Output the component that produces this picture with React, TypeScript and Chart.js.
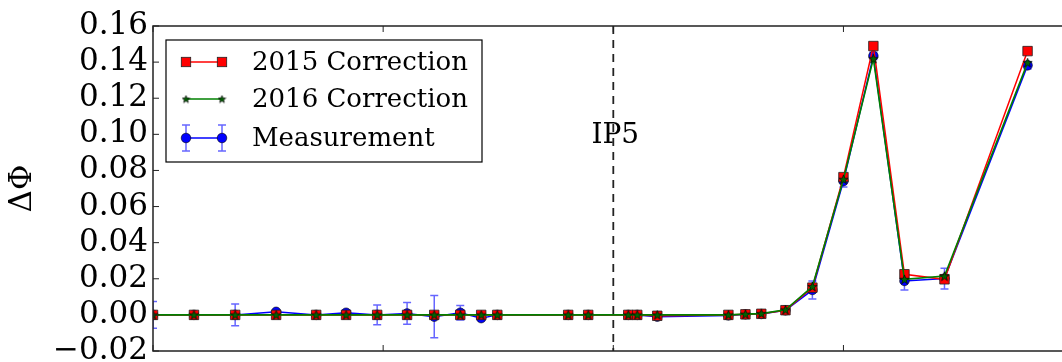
import React, { useEffect, useRef } from "react";
import { Chart, registerables } from "chart.js";
Chart.register(...registerables);

// x positions (arbitrary units, IP5 at 0, one tick per unit)
const positions = [-2.0, -1.822, -1.643, -1.465, -1.291, -1.161, -1.026, -0.896, -0.778, -0.665, -0.574, -0.504, -0.196, -0.109, 0.065, 0.104, 0.191, 0.5, 0.574, 0.643, 0.748, 0.865, 1.0, 1.13, 1.265, 1.439, 1.8];
const correction2015 = [0, 0, 0, 0, 0, 0, 0, 0, 0, 0, 0, 0, 0, 0, 0, 0, -0.0005, 0, 0.0003, 0.0006, 0.0026, 0.0151, 0.0763, 0.1489, 0.0225, 0.0197, 0.1461];
const correction2016 = [0, 0, 0, 0, 0, 0, 0, 0, 0, 0, 0, 0, 0, 0, 0, 0, 0, 0, 0.0004, 0.0007, 0.0028, 0.0157, 0.0751, 0.1419, 0.0197, 0.0215, 0.1397];
const measurement = [0, 0, 0, 0.0017, 0, 0.0012, 0, 0.0008, -0.001, 0.0012, -0.0018, 0, 0, 0, 0, 0, -0.001, -0.0003, 0.0003, 0.0005, 0.0025, 0.0138, 0.0741, 0.1434, 0.0188, 0.0201, 0.1382];
const measurementError = [0.0074, 0.001, 0.006, 0.001, 0.001, 0.001, 0.0055, 0.006, 0.0117, 0.004, 0.001, 0.001, 0.001, 0.001, 0.001, 0.001, 0.001, 0.001, 0.001, 0.001, 0.001, 0.005, 0.0033, 0.002, 0.005, 0.0057, 0.002];
const xTicks = [-2, -1, 0, 1];
const yTickValues = [-0.02, 0, 0.02, 0.04, 0.06, 0.08, 0.1, 0.12, 0.14, 0.16];
const IP5_X = 0;
const IP5_LABEL = "IP5";
const Y_TITLE = "ΔΦ";
const LABELS = ["2015 Correction", "2016 Correction", "Measurement"];

const SERIF = "'DejaVu Serif', serif";

function makeStar(size: number) {
  const c = document.createElement("canvas");
  c.width = size;
  c.height = size;
  const g = c.getContext("2d")!;
  const cx = size / 2, cy = size / 2 + 0.4;
  const R = size / 2 - 0.6, r = R * 0.42;
  g.beginPath();
  for (let i = 0; i < 10; i++) {
    const rad = i % 2 === 0 ? R : r;
    const a = -Math.PI / 2 + (i * Math.PI) / 5;
    const px = cx + rad * Math.cos(a), py = cy + rad * Math.sin(a);
    if (i === 0) g.moveTo(px, py); else g.lineTo(px, py);
  }
  g.closePath();
  g.fillStyle = "#006400";
  g.fill();
  g.lineWidth = 0.7;
  g.strokeStyle = "#000";
  g.stroke();
  return c;
}

export default function App() {
  const ref = useRef<HTMLCanvasElement | null>(null);
  useEffect(() => {
    const star = makeStar(11);
    const legendStar = makeStar(9);
    const overlay = {
      id: "overlay",
      beforeDatasetsDraw(chart: any) {
        const { ctx, chartArea: a, scales } = chart;
        const xs = scales.x, ys = scales.y;
        ctx.save();
        ctx.beginPath();
        ctx.rect(a.left, a.top, a.right - a.left, a.bottom - a.top);
        ctx.clip();
        // IP5 dashed line
        const ipx = xs.getPixelForValue(IP5_X);
        ctx.strokeStyle = "#222";
        ctx.lineWidth = 1.8;
        ctx.setLineDash([8, 6]);
        ctx.beginPath();
        ctx.moveTo(ipx, a.top);
        ctx.lineTo(ipx, a.bottom);
        ctx.stroke();
        ctx.setLineDash([]);
        // error bars
        ctx.strokeStyle = "rgba(0,0,255,0.6)";
        ctx.lineWidth = 1.5;
        for (let i = 0; i < positions.length; i++) {
          const px = xs.getPixelForValue(positions[i]);
          const y1 = ys.getPixelForValue(measurement[i] - measurementError[i]);
          const y2 = ys.getPixelForValue(measurement[i] + measurementError[i]);
          ctx.beginPath();
          ctx.moveTo(px, y1); ctx.lineTo(px, y2);
          ctx.moveTo(px - 4, y1); ctx.lineTo(px + 4, y1);
          ctx.moveTo(px - 4, y2); ctx.lineTo(px + 4, y2);
          ctx.stroke();
        }
        ctx.restore();
      },
      afterDatasetsDraw(chart: any) {
        const { ctx, chartArea: a, scales } = chart;
        const xs = scales.x, ys = scales.y;
        ctx.save();
        // frame (right side is cut off in the original)
        ctx.strokeStyle = "#222";
        ctx.lineWidth = 1.5;
        ctx.beginPath();
        ctx.moveTo(chart.width, a.top);
        ctx.lineTo(a.left, a.top);
        ctx.lineTo(a.left, a.bottom);
        ctx.lineTo(chart.width, a.bottom);
        ctx.stroke();
        // ticks (inward)
        ctx.lineWidth = 1;
        ctx.beginPath();
        for (const v of yTickValues) {
          const py = ys.getPixelForValue(v);
          ctx.moveTo(a.left, py); ctx.lineTo(a.left + 6, py);
        }
        for (const v of xTicks) {
          const px = xs.getPixelForValue(v);
          ctx.moveTo(px, a.top); ctx.lineTo(px, a.top + 6);
          ctx.moveTo(px, a.bottom); ctx.lineTo(px, a.bottom - 6);
        }
        ctx.stroke();
        // IP5 label
        ctx.fillStyle = "#000";
        ctx.font = "28px " + SERIF;
        ctx.textAlign = "center";
        ctx.textBaseline = "alphabetic";
        ctx.fillText(IP5_LABEL, xs.getPixelForValue(IP5_X) + 2, 143);
        // legend
        const lx = 166, ly = 40, lw = 316, lh = 122;
        ctx.fillStyle = "#fff";
        ctx.fillRect(lx, ly, lw, lh);
        ctx.strokeStyle = "#000";
        ctx.lineWidth = 1.2;
        ctx.strokeRect(lx, ly, lw, lh);
        const rows = [62, 99, 138];
        const x1 = 186, x2 = 222;
        ctx.font = "26px " + SERIF;
        ctx.textAlign = "left";
        ctx.textBaseline = "middle";
        // row 1
        ctx.strokeStyle = "#ff0000"; ctx.lineWidth = 1.5;
        ctx.beginPath(); ctx.moveTo(x1, rows[0]); ctx.lineTo(x2, rows[0]); ctx.stroke();
        for (const px of [x1, x2]) {
          ctx.fillStyle = "#ff0000"; ctx.fillRect(px - 4.7, rows[0] - 4.7, 9.4, 9.4);
          ctx.strokeStyle = "#222"; ctx.lineWidth = 0.8; ctx.strokeRect(px - 4.7, rows[0] - 4.7, 9.4, 9.4);
        }
        // row 2
        ctx.strokeStyle = "#008000"; ctx.lineWidth = 1.5;
        ctx.beginPath(); ctx.moveTo(x1, rows[1]); ctx.lineTo(x2, rows[1]); ctx.stroke();
        for (const px of [x1, x2]) ctx.drawImage(legendStar, px - 4.5, rows[1] - 4.5);
        // row 3
        ctx.strokeStyle = "rgba(0,0,255,0.6)"; ctx.lineWidth = 1.5;
        ctx.beginPath();
        for (const px of [x1, x2]) {
          ctx.moveTo(px, rows[2] - 13); ctx.lineTo(px, rows[2] + 13);
          ctx.moveTo(px - 4, rows[2] - 13); ctx.lineTo(px + 4, rows[2] - 13);
          ctx.moveTo(px - 4, rows[2] + 13); ctx.lineTo(px + 4, rows[2] + 13);
        }
        ctx.stroke();
        ctx.strokeStyle = "#0000ff";
        ctx.beginPath(); ctx.moveTo(x1, rows[2]); ctx.lineTo(x2, rows[2]); ctx.stroke();
        for (const px of [x1, x2]) {
          ctx.beginPath(); ctx.arc(px, rows[2], 4.8, 0, Math.PI * 2);
          ctx.fillStyle = "#0000ff"; ctx.fill();
          ctx.strokeStyle = "#000"; ctx.lineWidth = 0.6; ctx.stroke();
        }
        ctx.fillStyle = "#000";
        LABELS.forEach((t, i) => ctx.fillText(t, 252, rows[i] + 1));
        ctx.restore();
      },
    };

    const toPts = (ys: number[]) => positions.map((x, i) => ({ x, y: ys[i] }));
    const chart = new Chart(ref.current!, {
      type: "line",
      data: {
        datasets: [
          {
            label: LABELS[2],
            data: toPts(measurement),
            borderColor: "#0000ff",
            backgroundColor: "#0000ff",
            borderWidth: 1.5,
            pointStyle: "circle",
            pointRadius: 4.8,
            pointBorderColor: "#000",
            pointBorderWidth: 0.6,
            pointBackgroundColor: "#0000ff",
            order: 2,
          },
          {
            label: LABELS[0],
            data: toPts(correction2015),
            borderColor: "#ff0000",
            backgroundColor: "#ff0000",
            borderWidth: 1.5,
            pointStyle: "rect",
            pointRadius: 6.7,
            pointBorderColor: "#222",
            pointBorderWidth: 0.8,
            pointBackgroundColor: "#ff0000",
            order: 1,
          },
          {
            label: LABELS[1],
            data: toPts(correction2016),
            borderColor: "#008000",
            backgroundColor: "#008000",
            borderWidth: 1.6,
            pointStyle: star as any,
            pointRadius: 5,
            order: 0,
          },
        ],
      },
      options: {
        animation: false,
        responsive: false,
        events: [],
        layout: { padding: { top: 26, bottom: 11, left: 0, right: 0 } },
        plugins: { legend: { display: false }, tooltip: { enabled: false } },
        scales: {
          x: {
            type: "linear",
            display: false,
            min: -2,
            max: 1.917,
          },
          y: {
            type: "linear",
            min: -0.02,
            max: 0.16,
            afterFit: (s: any) => { s.width = 153; s.paddingTop = 0; s.paddingBottom = 0; },
            afterBuildTicks: (s: any) => { s.ticks = yTickValues.map((v) => ({ value: v })); },
            grid: { display: false, drawTicks: false },
            border: { display: false },
            ticks: {
              autoSkip: false,
              padding: 5,
              color: "#000",
              font: { family: SERIF, size: 31 },
              callback: (v: any) => {
                const n = Number(v);
                const s = Math.abs(n).toFixed(2);
                return n < -1e-9 ? "\u2212" + s : s;
              },
            },
            title: {
              display: true,
              text: Y_TITLE,
              color: "#000",
              font: { family: SERIF, size: 31 },
              padding: { top: 4, bottom: 4 },
            },
          },
        },
      },
      plugins: [overlay],
    } as any);
    return () => chart.destroy();
  }, []);
  return (
    <div style={{ position: "fixed", left: 0, top: 0, width: 1062, height: 362, background: "#fff" }}>
      <canvas ref={ref} width={1062} height={362} style={{ width: 1062, height: 362, display: "block" }} />
    </div>
  );
}
